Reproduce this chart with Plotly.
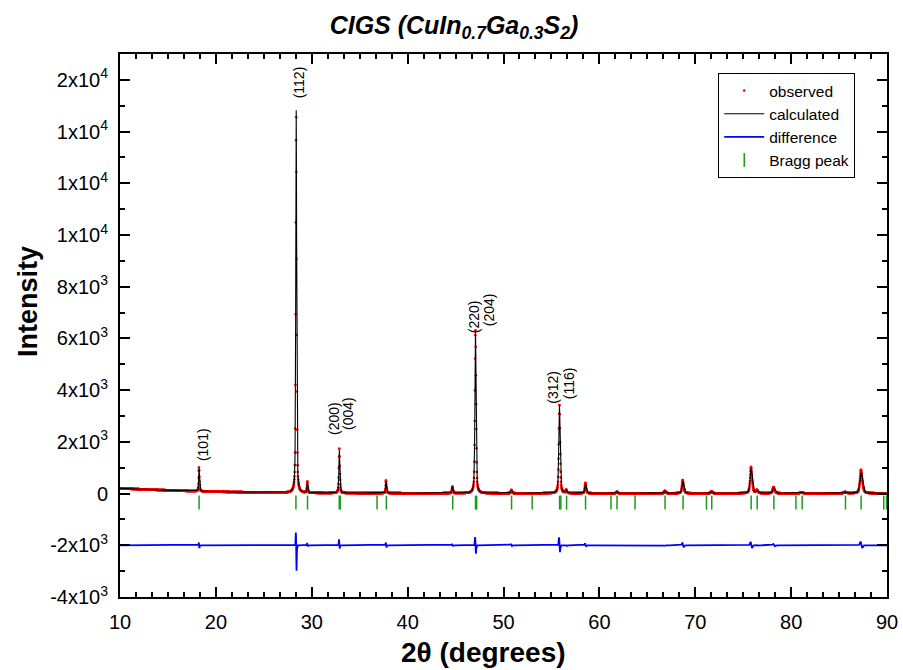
import numpy as np
import plotly.graph_objects as go

# ---------------- data ----------------
# background (2theta, intensity)
bg_x = [10, 12, 14, 16, 18, 20, 22, 24, 26, 28, 30, 35, 40, 50, 60, 70, 80, 90]
bg_y = [200, 170, 140, 115, 90, 72, 58, 46, 36, 28, 22, 17, 14, 12, 10, 10, 10, 10]

# reflections: position (deg), height above background, FWHM (deg)
peak_pos = [18.25, 28.38, 29.55, 32.88, 37.76, 44.68, 47.08, 50.84, 55.84, 56.56,
            58.56, 61.84, 66.86, 68.72, 71.72, 75.84, 76.46, 78.20, 81.10, 85.66, 87.32]
peak_height = [900, 14800, 390, 1650, 450, 250, 6300, 110, 3380, 110,
               370, 60, 90, 470, 70, 970, 100, 210, 40, 50, 850]
peak_fwhm = [0.10, 0.11, 0.11, 0.12, 0.12, 0.13, 0.14, 0.15, 0.16, 0.16,
             0.17, 0.18, 0.20, 0.22, 0.22, 0.25, 0.25, 0.26, 0.28, 0.30, 0.30]
# misfit (obs - calc) lobes at each reflection: positive / negative amplitude
diff_up = [120, 600, 100, 250, 120, 40, 360, 40, 340, 30,
           80, 10, 20, 110, 10, 150, 30, 60, 10, 10, 160]
diff_down = [120, 1050, 60, 150, 100, 40, 360, 30, 300, 30,
             60, 10, 20, 90, 10, 120, 20, 40, 10, 10, 120]

# Bragg reflection positions
bragg_pos = [18.25, 28.35, 29.56, 32.87, 32.97, 36.81, 37.78, 44.70, 47.08, 47.20,
             50.84, 52.99, 55.85, 55.98, 56.58, 58.56, 61.21, 61.84, 63.72, 66.85,
             68.73, 71.17, 71.72, 75.83, 76.46, 78.20, 80.50, 81.15, 85.67, 87.30,
             89.66, 89.95]
bragg_level = -350
diff_offset = -2000

# peak labels
label_text = ["(101)", "(112)", "(200)", "(004)", "(220)", "(204)", "(312)", "(116)"]
label_x = [18.25, 28.38, 32.88, 32.88, 47.08, 47.08, 55.84, 55.84]
label_y = [970, 14830, 1680, 1680, 6320, 6320, 3400, 3400]

y_tickvals = [-4000, -2000, 0, 2000, 4000, 6000, 8000, 10000, 12000, 14000, 16000]
y_ticktext = ["-4x10<sup>3</sup>", "-2x10<sup>3</sup>", "0", "2x10<sup>3</sup>",
              "4x10<sup>3</sup>", "6x10<sup>3</sup>", "8x10<sup>3</sup>",
              "1x10<sup>4</sup>", "1x10<sup>4</sup>", "1x10<sup>4</sup>", "2x10<sup>4</sup>"]

# ---------------- build profiles ----------------
x = np.round(np.arange(10.0, 90.0001, 0.01), 4)
background = np.interp(x, bg_x, bg_y)
calc = background.copy()
diff = np.zeros_like(x)
eta = 0.5
for p, h, w, du, dd in zip(peak_pos, peak_height, peak_fwhm, diff_up, diff_down):
    t = (x - p) / w
    calc += h * (eta / (1 + 4 * t ** 2) + (1 - eta) * np.exp(-4 * np.log(2) * t ** 2))
    s = 0.35 * w
    diff += du * np.exp(-((x - (p - 0.25 * w)) / s) ** 2) - dd * np.exp(-((x - (p + 0.25 * w)) / s) ** 2)
obs = calc + diff
obs_step = slice(None, None, 2)

font_family = "Liberation Sans, Arial, sans-serif"

fig = go.Figure()
fig.add_trace(go.Scatter(x=x[obs_step], y=obs[obs_step], mode="markers", name="observed",
                         marker=dict(color="red", size=2.6, line=dict(width=0))))
fig.add_trace(go.Scatter(x=x, y=calc, mode="lines", name="calculated",
                         line=dict(color="black", width=1.1)))
fig.add_trace(go.Scatter(x=x, y=diff + diff_offset, mode="lines", name="difference",
                         line=dict(color="blue", width=1.8)))
fig.add_trace(go.Scatter(x=bragg_pos, y=[bragg_level] * len(bragg_pos), mode="markers",
                         name="Bragg peak",
                         marker=dict(symbol="line-ns", size=10, color="#1a9e1a",
                                     line=dict(color="#1a9e1a", width=1.5))))

shifts = [(4, 5), (3, 10), (-6, 13), (8, 18), (-2, -5), (13, 2), (-6, 0), (9, 5)]
for t, lx, ly, (dx, dy) in zip(label_text, label_x, label_y, shifts):
    fig.add_annotation(x=lx, y=ly, text=t, textangle=-90, showarrow=False,
                       xanchor="center", yanchor="bottom", xshift=dx, yshift=dy,
                       font=dict(family=font_family, size=14, color="black"))

fig.add_annotation(xref="paper", yref="paper", x=(483 - 120) / 766.7, y=-(652 - 597) / 543,
                   text="<b>2θ (degrees)</b>", showarrow=False, xanchor="center", yanchor="middle",
                   font=dict(family=font_family, size=28, color="black"))
fig.add_annotation(xref="paper", yref="paper", x=-(120 - 28) / 766.7, y=(597 - 301) / 543,
                   text="<b>Intensity</b>", textangle=-90, showarrow=False,
                   xanchor="center", yanchor="middle",
                   font=dict(family=font_family, size=27, color="black"))

axis_common = dict(showline=True, linewidth=2, linecolor="black", mirror="ticks",
                   ticks="inside", ticklen=10, tickwidth=1.5, tickcolor="black",
                   showgrid=False, zeroline=False, automargin=False,
                   tickfont=dict(family=font_family, size=20, color="black"))

fig.update_layout(
    width=903, height=670,
    margin=dict(l=120, r=16, t=54, b=73),
    paper_bgcolor="white", plot_bgcolor="white",
    title=dict(text="<b><i>CIGS (CuIn<sub>0.7</sub>Ga<sub>0.3</sub>S<sub>2</sub>)</i></b>",
               x=454 / 903, xanchor="center", y=1 - 25 / 670, yanchor="middle",
               font=dict(family=font_family, size=25, color="black"), automargin=False),
    xaxis=dict(range=[10, 90], tickvals=[10, 20, 30, 40, 50, 60, 70, 80, 90],
               minor=dict(dtick=10 / 6, ticklen=5, tickwidth=1.5, ticks="inside", tickcolor="black"),
               ticklabelstandoff=6, **axis_common),
    yaxis=dict(range=[-4000, 17000], tickvals=y_tickvals, ticktext=y_ticktext,
               minor=dict(dtick=1000, ticklen=5, tickwidth=1.5, ticks="inside", tickcolor="black"),
               ticklabelstandoff=6, **axis_common),
    legend=dict(x=(718 - 120) / 766.7, y=(597 - 73) / 543, xanchor="left", yanchor="top",
                bordercolor="black", borderwidth=1, bgcolor="white",
                font=dict(family=font_family, size=15.5, color="black"),
                tracegroupgap=0, itemwidth=40),
    showlegend=True,
)

fig.write_html("out.html")
